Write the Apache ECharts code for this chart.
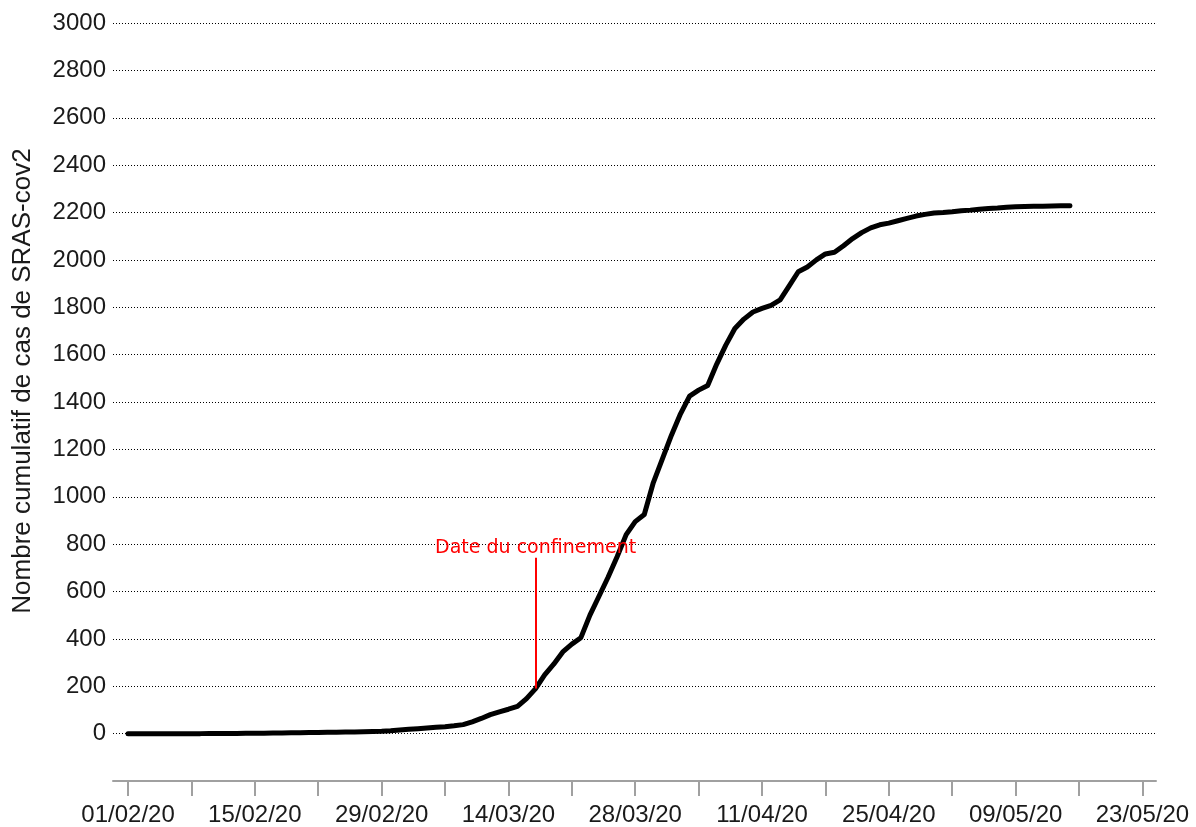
<!DOCTYPE html>
<html>
<head>
<meta charset="utf-8">
<script src="https://cdn.jsdelivr.net/npm/echarts@6/dist/echarts.min.js"></script>
<style>
html,body{margin:0;padding:0;background:#fff;}
#chart{width:1196px;height:827px;}
</style>
</head>
<body>
<div id="chart"></div>
<script>
// jours depuis le 01/02/20
var startDay = [2020, 2, 1];
var cumulCases = [
  0,0,0,0,0,0,0,0,0,1, 1,1,1,2,2,2,3,3,4,4,
  5,5,6,6,7,7,8,9,10,12, 15,18,21,24,27,29,33,38,50,64,
  80,92,103,115,148,190,248,293,345,378, 405,500,580,660,747,840,895,925,1060,1160,
  1260,1350,1425,1450,1470,1560,1640,1710,1750,1780, 1795,1808,1831,1890,1950,1970,2000,2025,2032,2060,
  2090,2115,2135,2148,2155,2165,2175,2185,2192,2198, 2200,2203,2207,2210,2214,2217,2219,2222,2224,2225,
  2226,2226,2227,2228,2229
];
var tickDays = [0,7,14,21,28,35,42,49,56,63,70,77,84,91,98,105,112];
var labelDays = [0,14,28,42,56,70,84,98,112];
var confinementDay = 45;
var confinementRange = [190, 743];
var axisDays = [-1.66, 113.5];

function pad(n) { return (n < 10 ? '0' : '') + n; }
function dayLabel(d) {
  var dt = new Date(startDay[0], startDay[1] - 1, startDay[2] + Math.round(d));
  return pad(dt.getDate()) + '/' + pad(dt.getMonth() + 1) + '/' + String(dt.getFullYear()).slice(2);
}

var seriesData = [];
for (var i = 0; i < cumulCases.length; i++) {
  seriesData.push([i, cumulCases[i]]);
}

var font = 'Arial, "Liberation Sans", sans-serif';
var myChart = echarts.init(document.getElementById('chart'));
var option = {
  backgroundColor: '#fff',
  animation: false,
  grid: { left: 113, right: 40, top: 23, bottom: 46, containLabel: false },
  xAxis: {
    type: 'value',
    min: axisDays[0],
    max: axisDays[1],
    axisLine: { onZero: false, lineStyle: { color: '#a0a0a0', width: 2 } },
    axisTick: {
      show: true,
      length: 15,
      customValues: tickDays,
      lineStyle: { color: '#a0a0a0', width: 2 }
    },
    axisLabel: {
      customValues: labelDays,
      margin: 22,
      fontSize: 24,
      fontFamily: font,
      color: '#1a1a1a',
      formatter: function (v) { return dayLabel(v); }
    },
    splitLine: { show: false }
  },
  yAxis: {
    type: 'value',
    min: -200,
    max: 3000,
    interval: 200,
    name: 'Nombre cumulatif de cas de SRAS-cov2',
    nameLocation: 'middle',
    nameGap: 77,
    nameTextStyle: { fontSize: 26, fontFamily: font, color: '#1a1a1a', padding: [0, 0, 0, 42] },
    axisLine: { show: false },
    axisTick: { show: false },
    axisLabel: {
      margin: 7,
      fontSize: 24,
      fontFamily: font,
      color: '#1a1a1a',
      formatter: function (v) { return v < 0 ? '' : v; }
    },
    splitLine: { show: true, showMinLine: false, lineStyle: { color: '#000', width: 1, type: [1, 2] } }
  },
  series: [{
    type: 'line',
    data: seriesData,
    showSymbol: false,
    lineStyle: { color: '#000', width: 5, cap: 'round', join: 'round' },
    markLine: {
      silent: true,
      symbol: 'none',
      animation: false,
      lineStyle: { color: '#ff0000', width: 2, type: 'solid' },
      label: {
        show: true,
        position: 'end',
        distance: 0,
        color: '#ff0000',
        fontSize: 19,
        fontFamily: '"DejaVu Sans", sans-serif',
        formatter: 'Date du confinement'
      },
      data: [[
        { coord: [confinementDay, confinementRange[0]] },
        { coord: [confinementDay, confinementRange[1]] }
      ]]
    }
  }]
};
myChart.setOption(option);
</script>
</body>
</html>
